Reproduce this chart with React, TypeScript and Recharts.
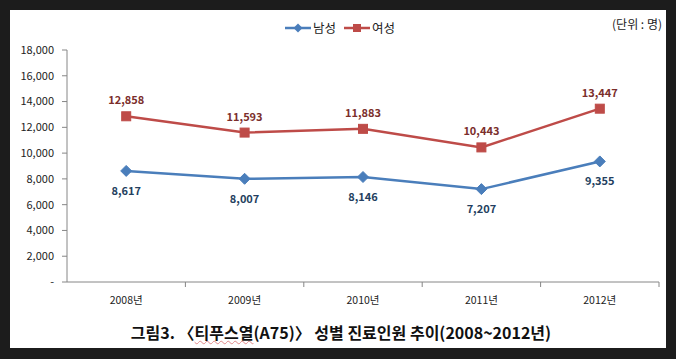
import { LabelList, Line, LineChart, XAxis, YAxis } from "recharts";

const years = ["2008년", "2009년", "2010년", "2011년", "2012년"];
const male = [8617, 8007, 8146, 7207, 9355];
const female = [12858, 11593, 11883, 10443, 13447];
const yTicks = [0, 2000, 4000, 6000, 8000, 10000, 12000, 14000, 16000, 18000];

const chartData = years.map((year, i) => ({ year, male: male[i], female: female[i] }));

const FONT = '"Noto Sans CJK KR", "Noto Sans", sans-serif';
const BLUE = "#4a7ebb";
const RED = "#be4b48";
const AXIS = "#868686";

const fmt = (v: number) => (v === 0 ? "-" : v.toLocaleString("en-US"));

function Diamond(props: any) {
  const { cx, cy } = props;
  if (cx == null || cy == null) return null;
  const r = 5.5;
  return (
    <polygon
      points={`${cx},${cy - r} ${cx + r},${cy} ${cx},${cy + r} ${cx - r},${cy}`}
      fill={BLUE}
      stroke={BLUE}
    />
  );
}

function Square(props: any) {
  const { cx, cy } = props;
  if (cx == null || cy == null) return null;
  return <rect x={cx - 4.5} y={cy - 4.5} width={9} height={9} fill={RED} stroke={RED} />;
}

function YearTick(props: any) {
  const { x, y, payload } = props;
  const half = payload?.offset || 59.2;
  const axisY = y - 13;
  return (
    <g>
      <line x1={x + half} y1={axisY} x2={x + half} y2={axisY + 5} stroke={AXIS} />
      <text x={x} y={y + 9} textAnchor="middle" fontSize={10.5} fill="#222" fontFamily={FONT}>
        {payload.value}
      </text>
    </g>
  );
}

function LegendItem({ color, square, label }: { color: string; square?: boolean; label: string }) {
  return (
    <span style={{ display: "inline-flex", alignItems: "center", marginRight: 8 }}>
      <svg width={26} height={10}>
        <line x1={0} y1={5} x2={26} y2={5} stroke={color} strokeWidth={2.5} />
        {square ? (
          <rect x={9} y={1} width={8} height={8} fill={color} />
        ) : (
          <polygon points="13,0.5 17.5,5 13,9.5 8.5,5" fill={color} />
        )}
      </svg>
      <span style={{ marginLeft: 2 }}>{label}</span>
    </span>
  );
}

export default function App() {
  return (
    <div
      style={{
        position: "absolute",
        left: 0,
        top: 0,
        width: 676,
        height: 359,
        background: "#1c1c1c",
      }}
    >
      <div
        style={{
          position: "absolute",
          left: 10,
          top: 10,
          width: 656,
          height: 338,
          background: "#fff",
          fontFamily: FONT,
        }}
      >
        <div
          style={{
            position: "absolute",
            left: 275,
            top: 8,
            fontSize: 12.5,
            color: "#222",
            display: "flex",
            alignItems: "center",
            whiteSpace: "nowrap",
          }}
        >
          <LegendItem color={BLUE} label="남성" />
          <LegendItem color={RED} square label="여성" />
        </div>
        <div
          style={{
            position: "absolute",
            right: 4,
            top: 5,
            fontSize: 12,
            color: "#222",
            whiteSpace: "nowrap",
          }}
        >
          (단위 : 명)
        </div>
        <LineChart
          width={656}
          height={338}
          data={chartData}
          margin={{ top: 40, right: 7, left: 0, bottom: 36 }}
        >
          <XAxis
            dataKey="year"
            scale="band"
            stroke={AXIS}
            tickLine={false}
            tickSize={5}
            tickMargin={8}
            height={30}
            interval={0}
            tick={<YearTick />}
          />
          <YAxis
            domain={[0, 18000]}
            ticks={yTicks}
            interval={0}
            width={57}
            stroke={AXIS}
            tickSize={5}
            tickMargin={8}
            tickFormatter={fmt}
            tick={{ fontSize: 11, fill: "#222", fontFamily: FONT }}
          />
          <Line
            dataKey="female"
            stroke={RED}
            strokeWidth={2.5}
            dot={<Square />}
            activeDot={false}
            isAnimationActive={false}
          >
            <LabelList
              dataKey="female"
              position="top"
              offset={12}
              formatter={(v: any) => fmt(Number(v))}
              style={{ fontSize: 11, fontWeight: "bold", fill: "#7b2e2b", fontFamily: FONT }}
            />
          </Line>
          <Line
            dataKey="male"
            stroke={BLUE}
            strokeWidth={2.5}
            dot={<Diamond />}
            activeDot={false}
            isAnimationActive={false}
          >
            <LabelList
              dataKey="male"
              position="bottom"
              offset={16}
              formatter={(v: any) => fmt(Number(v))}
              style={{ fontSize: 11, fontWeight: "bold", fill: "#243f60", fontFamily: FONT }}
            />
          </Line>
        </LineChart>
        <div
          style={{
            position: "absolute",
            left: 0,
            width: 662,
            top: 310,
            textAlign: "center",
            fontSize: 16,
            fontWeight: "bold",
            color: "#111",
            whiteSpace: "nowrap",
          }}
        >
          그림3. 〈
          <span style={{ textDecoration: "underline wavy #e08a8a", textDecorationThickness: 1 }}>
            티푸스열
          </span>
          (A75)〉 성별 진료인원 추이(2008~2012년)
        </div>
      </div>
    </div>
  );
}
